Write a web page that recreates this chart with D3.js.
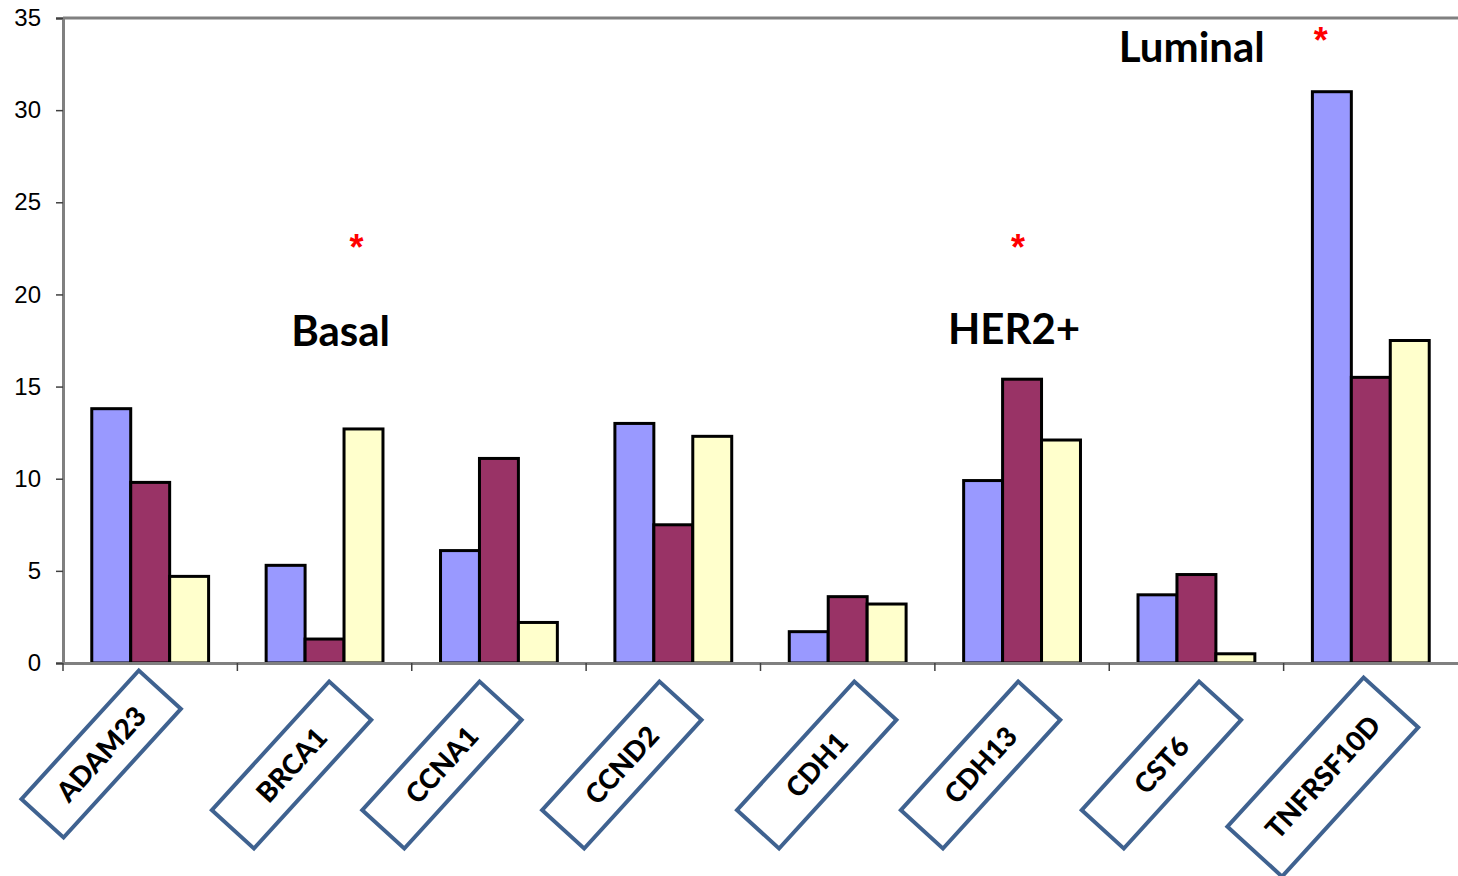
<!DOCTYPE html>
<html><head><meta charset="utf-8">
<script src="https://cdn.jsdelivr.net/npm/d3@7"></script>
<style>body{margin:0;background:#fff}svg{display:block}</style>
</head><body>
<svg id="c" width="1458" height="876"></svg>
<script>
const categories = ["ADAM23","BRCA1","CCNA1","CCND2","CDH1","CDH13","CST6","TNFRSF10D"];
const seriesNames = ["s1","s2","s3"];
const seriesColors = ["#9999ff","#993366","#ffffcc"];
const s1 = [13.8, 5.3, 6.1, 13.0, 1.7, 9.9, 3.7, 31.0];
const s2 = [9.8, 1.3, 11.1, 7.5, 3.6, 15.4, 4.8, 15.5];
const s3 = [4.7, 12.7, 2.2, 12.3, 3.2, 12.1, 0.5, 17.5];
const yTicks = [0,5,10,15,20,25,30,35];
const annotations = [
  {label:"Basal", cat:"BRCA1", value:17.2, star:21.85, dx:16, sdx:32},
  {label:"HER2+", cat:"CDH13", value:17.3, star:21.85, dx:-8, sdx:-4},
  {label:"Luminal", cat:"TNFRSF10D", value:32.6, star:33.1, dx:-179, sdx:-50}
];
// label box layout (offset from band centre in px)
const labelLayout = [
  {dx:-49, y:754}, {dx:-33, y:765}, {dx:-57, y:765}, {dx:-51.5, y:765},
  {dx:-31, y:765}, {dx:-41.5, y:765}, {dx:-35, y:765}, {dx:-48, y:777}
];

const svg = d3.select("#c");
const L=63, R=1458, T=18, B=663;
const x = d3.scaleBand().domain(categories).range([L,R]).paddingInner(0.33).paddingOuter(0.165);
const x0 = d3.scaleBand().domain(categories).range([L,R]);
const xs = d3.scaleBand().domain(seriesNames).range([0,x.bandwidth()]);
const y = d3.scaleLinear().domain([0,35]).range([B,T]);

svg.append("line").attr("x1",L).attr("x2",R).attr("y1",T).attr("y2",T).attr("stroke","#808080").attr("stroke-width",3);

const data = categories.map((c,i)=>({c, v:[s1[i],s2[i],s3[i]]}));
const g = svg.append("g");
data.forEach(d=>{
  d.v.forEach((v,j)=>{
    g.append("rect")
      .attr("x", x(d.c)+xs(seriesNames[j]))
      .attr("y", y(v))
      .attr("width", xs.bandwidth())
      .attr("height", y(0)-y(v))
      .attr("fill", seriesColors[j])
      .attr("stroke","#000").attr("stroke-width",3);
  });
});

const ya = svg.append("g").attr("transform",`translate(${L},0)`)
  .call(d3.axisLeft(y).tickValues(yTicks).tickSize(7).tickPadding(15));
ya.select(".domain").attr("stroke","#808080").attr("stroke-width",3);
ya.selectAll(".tick line").attr("stroke","#404040").attr("stroke-width",1.5);
ya.selectAll("text").attr("font-family","Liberation Sans, Arial, sans-serif").attr("font-size",24).attr("fill","#000");

const xa = svg.append("g").attr("transform",`translate(0,${B})`)
  .call(d3.axisBottom(x0).tickSize(0).tickFormat(""));
xa.select(".domain").attr("stroke","#808080").attr("stroke-width",3);
const bounds = categories.map(c=>x0(c));
svg.append("g").selectAll("line").data(bounds).join("line")
  .attr("x1",d=>d).attr("x2",d=>d).attr("y1",B).attr("y2",B+8)
  .attr("stroke","#404040").attr("stroke-width",1.5);

const labG = svg.append("g");
categories.forEach((c,i)=>{
  const lay = labelLayout[i];
  const cx = x0(c)+x0.bandwidth()/2 + lay.dx;
  const big = c.length>7;
  const w = big? 202 : 174, h = big? 74 : 57;
  const gg = labG.append("g").attr("transform",`translate(${cx},${lay.y}) rotate(-47.6)`);
  gg.append("rect").attr("x",-w/2).attr("y",-h/2).attr("width",w).attr("height",h)
    .attr("fill","#fff").attr("stroke","#3f6290").attr("stroke-width",4);
  gg.append("text").text(c).attr("text-anchor","middle").attr("dy","0.36em")
    .attr("font-family","Lato, Open Sans, sans-serif").attr("font-weight","900")
    .attr("font-size",27.5).attr("fill","#000");
});

annotations.forEach(a=>{
  const cx = x0(a.cat)+x0.bandwidth()/2;
  svg.append("text").text(a.label).attr("x",cx+a.dx).attr("y",y(a.value))
    .attr("text-anchor","middle").attr("font-family","Lato, Open Sans, sans-serif")
    .attr("font-weight","bold").attr("font-size",42).attr("fill","#000");
  svg.append("text").text("*").attr("x",cx+a.sdx).attr("y",y(a.star))
    .attr("text-anchor","middle").attr("font-family","Liberation Sans, Arial, sans-serif")
    .attr("font-weight","bold").attr("font-size",36).attr("fill","#ff0000");
});
</script>
</body></html>
